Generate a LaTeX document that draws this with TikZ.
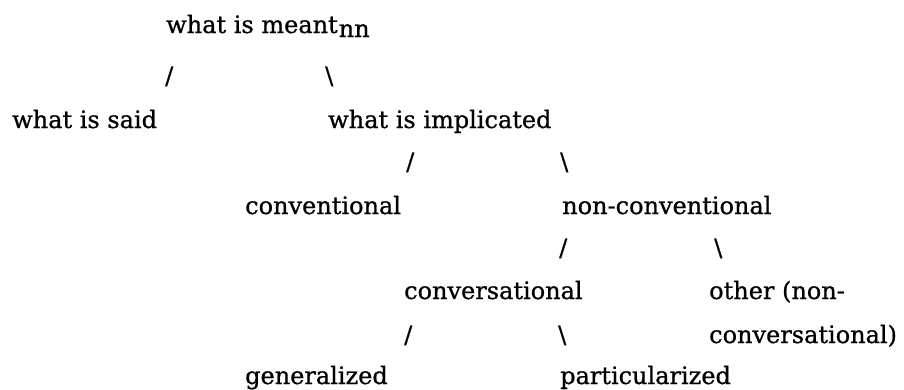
\documentclass[tikz,border=0pt]{standalone}
\usepackage{fontspec}
\setmainfont{DejaVu Serif}[FakeBold=0.8]

\tikzset{word/.style={anchor=base west,inner sep=0pt,font=\fontsize{24}{28}\selectfont}}

\begin{document}
\begin{tikzpicture}[x=1pt,y=-1pt]

  \useasboundingbox (0,0) rectangle (904,389);

  \node[word] (meant) at (166,33) {what is meant\kern1pt\raisebox{-4pt}{nn}};

  \node[word] (slA) at (165,84) {/};
  \node[word] (bsA) at (325,84) {\textbackslash};

  \node[word] (said) at (12,128) {what is said};
  \node[word] (impl) at (328,128) {what is implicated};

  \node[word] (slB) at (406,170) {/};
  \node[word] (bsB) at (560,170) {\textbackslash};

  \node[word] (conv) at (245,214) {conventional};
  \node[word] (nonconv) at (562,214) {non-conventional};

  \node[word] (slC) at (559,256) {/};
  \node[word] (bsC) at (714,256) {\textbackslash};

  \node[word] (convers) at (404,299) {conversational};
  \node[word] (other) at (709,299) {other (non-};

  \node[word] (slD) at (404,343) {/};
  \node[word] (bsD) at (558,343) {\textbackslash};
  \node[word] (otherb) at (709,343) {conversational)};

  \node[word] (gen) at (245,384) {generalized};
  \node[word] (part) at (560,384) {particularized};

\end{tikzpicture}
\end{document}
